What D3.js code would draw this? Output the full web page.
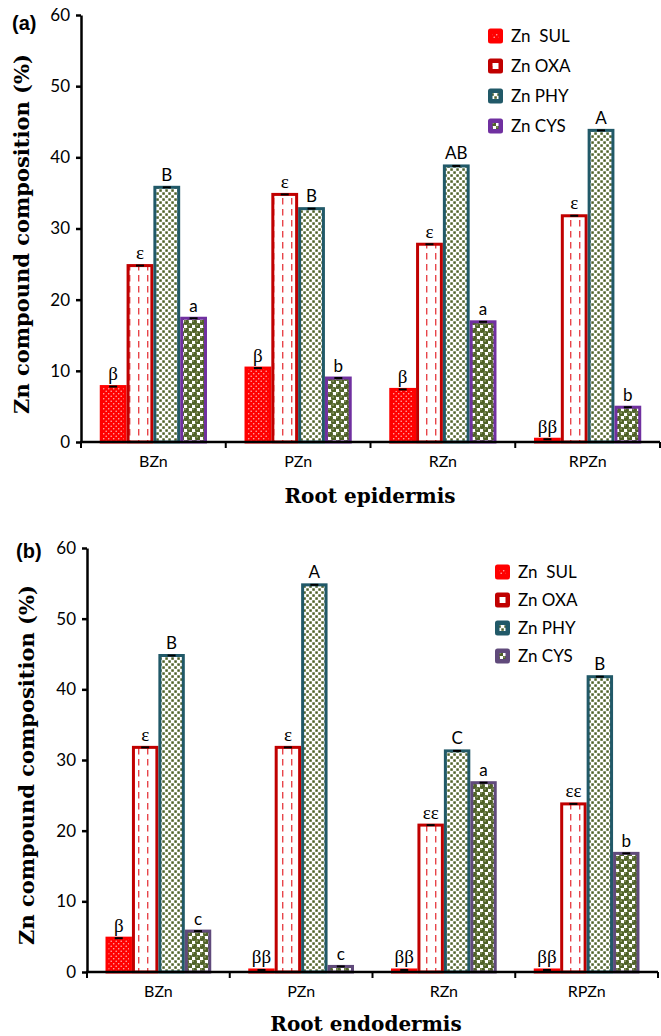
<!DOCTYPE html>
<html>
<head>
<meta charset="utf-8">
<script src="https://cdn.jsdelivr.net/npm/d3@7"></script>
<style>
  body { margin: 0; background: #fff; }
  svg { display: block; }
</style>
</head>
<body>
<div id="chart"></div>
<script>
// categories and series
const categories = ["BZn", "PZn", "RZn", "RPZn"];
const seriesKeys = ["SUL", "OXA", "PHY", "CYS"];
const seriesNames = ["Zn  SUL", "Zn OXA", "Zn PHY", "Zn CYS"];
const yTicks = [0, 10, 20, 30, 40, 50, 60];

// (a) root epidermis values (%)
const epiSUL = [8.0, 10.6, 7.6, 0.6];
const epiOXA = [25, 35, 28, 32];
const epiPHY = [36, 33, 39, 44];
const epiCYS = [17.6, 9.2, 17.1, 5.1];
const epiLetters = [
  ["β", "β", "β", "ββ"],
  ["ε", "ε", "ε", "ε"],
  ["B", "B", "AB", "A"],
  ["a", "b", "a", "b"]
];

// (b) root endodermis values (%)
const endoSUL = [5.0, 0.5, 0.5, 0.5];
const endoOXA = [32, 32, 21, 24];
const endoPHY = [45, 55, 31.5, 42];
const endoCYS = [6.0, 1.0, 27, 17];
const endoLetters = [
  ["β", "ββ", "ββ", "ββ"],
  ["ε", "ε", "εε", "εε"],
  ["B", "A", "C", "B"],
  ["c", "c", "a", "b"]
];

const W = 661, H = 1036;
const svg = d3.select("#chart").append("svg")
    .attr("width", W).attr("height", H);

const defs = svg.append("defs");
const olive = "#4f6228";

// SUL: red with white dots
const pSul = defs.append("pattern").attr("id", "pSUL")
    .attr("patternUnits", "userSpaceOnUse").attr("width", 5).attr("height", 5);
pSul.append("rect").attr("width", 5).attr("height", 5).attr("fill", "#ff0000");
pSul.append("circle").attr("cx", 1.2).attr("cy", 1.2).attr("r", 0.8).attr("fill", "#ffb0b0");
pSul.append("circle").attr("cx", 3.7).attr("cy", 3.7).attr("r", 0.8).attr("fill", "#ffb0b0");

// OXA: white with red dashed verticals
const pOxa = defs.append("pattern").attr("id", "pOXA")
    .attr("patternUnits", "userSpaceOnUse").attr("width", 9).attr("height", 11);
pOxa.append("rect").attr("width", 9).attr("height", 11).attr("fill", "#ffffff");
pOxa.append("rect").attr("x", 3).attr("y", 0).attr("width", 1.4).attr("height", 6.5).attr("fill", "#e8454a");

// PHY: white with small olive squares
const pPhy = defs.append("pattern").attr("id", "pPHY")
    .attr("patternUnits", "userSpaceOnUse").attr("width", 6).attr("height", 6);
pPhy.append("rect").attr("width", 6).attr("height", 6).attr("fill", "#ffffff");
pPhy.append("rect").attr("x", 0.3).attr("y", 0.3).attr("width", 2.5).attr("height", 2.5).attr("fill", olive);
pPhy.append("rect").attr("x", 3.3).attr("y", 3.3).attr("width", 2.5).attr("height", 2.5).attr("fill", olive);

// CYS: olive spheres
const pCys = defs.append("pattern").attr("id", "pCYS")
    .attr("patternUnits", "userSpaceOnUse").attr("width", 8).attr("height", 8);
pCys.append("rect").attr("width", 8).attr("height", 8).attr("fill", "#ffffff");
[[2, 2], [6, 6]].forEach(c => {
  pCys.append("circle").attr("cx", c[0]).attr("cy", c[1]).attr("r", 3).attr("fill", olive);
  pCys.append("circle").attr("cx", c[0] - 0.9).attr("cy", c[1] - 0.9).attr("r", 0.8).attr("fill", "#a3b07a");
});

const fills = { SUL: "url(#pSUL)", OXA: "url(#pOXA)", PHY: "url(#pPHY)", CYS: "url(#pCYS)" };

function drawPanel(p) {
  const g = svg.append("g");

  const x0 = d3.scaleBand().domain(categories).range([p.left, p.right]);
  const x1 = d3.scaleBand().domain(seriesKeys).range([0, x0.bandwidth()])
      .paddingInner(0).paddingOuter(0.7);
  const y = d3.scaleLinear().domain([0, 60]).range([p.bottom, p.top]);

  const rows = [];
  seriesKeys.forEach((k, si) => {
    categories.forEach((c, ci) => {
      rows.push({ key: k, cat: c, v: p.values[si][ci], label: p.letters[si][ci] });
    });
  });

  const sw = 3;
  // bars
  g.selectAll("rect.bar").data(rows).enter().append("rect")
      .attr("class", "bar")
      .attr("x", d => x0(d.cat) + x1(d.key) + sw / 2)
      .attr("y", d => y(d.v) + sw / 2)
      .attr("width", x1.bandwidth() - sw)
      .attr("height", d => Math.max(0, y(0) - y(d.v) - sw / 2))
      .attr("fill", d => fills[d.key])
      .attr("stroke", d => p.strokes[d.key])
      .attr("stroke-width", sw);

  // error caps
  g.selectAll("line.err").data(rows).enter().append("line")
      .attr("x1", d => x0(d.cat) + x1(d.key) + x1.bandwidth() / 2 - 4)
      .attr("x2", d => x0(d.cat) + x1(d.key) + x1.bandwidth() / 2 + 4)
      .attr("y1", d => y(d.v) + 1.5)
      .attr("y2", d => y(d.v) + 1.5)
      .attr("stroke", "#000").attr("stroke-width", 2);

  // significance letters
  g.selectAll("text.sig").data(rows).enter().append("text")
      .attr("x", d => x0(d.cat) + x1(d.key) + x1.bandwidth() / 2)
      .attr("y", d => y(d.v) - 5)
      .attr("text-anchor", "middle")
      .style("font-family", d => /[βε]/.test(d.label) ? "Liberation Serif, serif" : "Lato, sans-serif")
      .style("font-size", d => /[βε]/.test(d.label) ? "19px" : "17px")
      .text(d => d.label);

  // y axis
  const ya = g.append("g")
      .attr("transform", `translate(${p.left},0)`)
      .call(d3.axisLeft(y).tickValues(yTicks).tickSize(5).tickSizeOuter(0).tickPadding(6));
  ya.select(".domain").attr("stroke-width", 2.5);
  ya.selectAll(".tick line").attr("stroke-width", 2.5);
  ya.selectAll("text").style("font-family", "Lato, sans-serif").style("font-size", "17px").attr("fill", "#000");

  // x axis: labels at centres, ticks at boundaries
  const xa = g.append("g")
      .attr("transform", `translate(0,${p.bottom})`)
      .call(d3.axisBottom(x0).tickSize(0).tickPadding(14));
  xa.select(".domain").remove();
  xa.selectAll("text").style("font-family", "Lato, sans-serif").style("font-size", "16px").attr("fill", "#000");
  g.append("line")
      .attr("x1", p.left - 1).attr("x2", p.right)
      .attr("y1", p.bottom).attr("y2", p.bottom)
      .attr("stroke", "#000").attr("stroke-width", 2.5);
  const bounds = categories.map(c => x0(c)).concat([p.right]);
  g.selectAll("line.xt").data(bounds).enter().append("line")
      .attr("x1", d => d).attr("x2", d => d)
      .attr("y1", p.bottom).attr("y2", p.bottom + 6)
      .attr("stroke", "#000").attr("stroke-width", 2);

  // titles
  g.append("text")
      .attr("transform", `translate(${p.ylabX},${p.ylabY}) rotate(-90)`)
      .attr("text-anchor", "middle")
      .style("font-family", "DejaVu Serif, serif").style("font-weight", "bold").style("font-size", "21px")
      .text("Zn compound composition (%)");
  g.append("text")
      .attr("x", p.xlabX).attr("y", p.xlabY)
      .attr("text-anchor", "middle")
      .style("font-family", "DejaVu Serif, serif").style("font-weight", "bold").style("font-size", "20px")
      .text(p.xtitle);
  g.append("text")
      .attr("x", p.tagX).attr("y", p.tagY)
      .style("font-family", "Liberation Sans, Arial, sans-serif").style("font-weight", "bold").style("font-size", "20px")
      .text(p.tag);

  // legend
  const lg = g.selectAll("g.leg").data(seriesKeys).enter().append("g")
      .attr("transform", (d, i) => `translate(${p.legX},${p.legY + i * p.legStep})`);
  lg.append("rect")
      .attr("x", 0).attr("y", -7.5).attr("width", 15).attr("height", 15).attr("rx", 2.5)
      .attr("fill", d => p.strokes[d]);
  lg.append("rect")
      .attr("x", 4.5).attr("y", -3).attr("width", 6).attr("height", 6)
      .attr("fill", d => fills[d]);
  lg.append("text")
      .attr("x", 23).attr("y", 6)
      .style("font-family", "Lato, sans-serif").style("font-size", "17px")
      .attr("xml:space", "preserve")
      .text((d, i) => seriesNames[i]);
}

drawPanel({
  left: 81, right: 660, top: 15, bottom: 442,
  values: [epiSUL, epiOXA, epiPHY, epiCYS],
  letters: epiLetters,
  strokes: { SUL: "#ff0000", OXA: "#c00000", PHY: "#215968", CYS: "#7030a0" },
  ylabX: 29, ylabY: 234, xlabX: 370, xlabY: 503, xtitle: "Root epidermis",
  tag: "(a)", tagX: 12, tagY: 30,
  legX: 488, legY: 36, legStep: 30
});

drawPanel({
  left: 87, right: 658, top: 548, bottom: 972,
  values: [endoSUL, endoOXA, endoPHY, endoCYS],
  letters: endoLetters,
  strokes: { SUL: "#ff0000", OXA: "#c00000", PHY: "#215968", CYS: "#604a7b" },
  ylabX: 34, ylabY: 765, xlabX: 366, xlabY: 1031, xtitle: "Root endodermis",
  tag: "(b)", tagX: 16, tagY: 558,
  legX: 495, legY: 572, legStep: 28
});
</script>
</body>
</html>
